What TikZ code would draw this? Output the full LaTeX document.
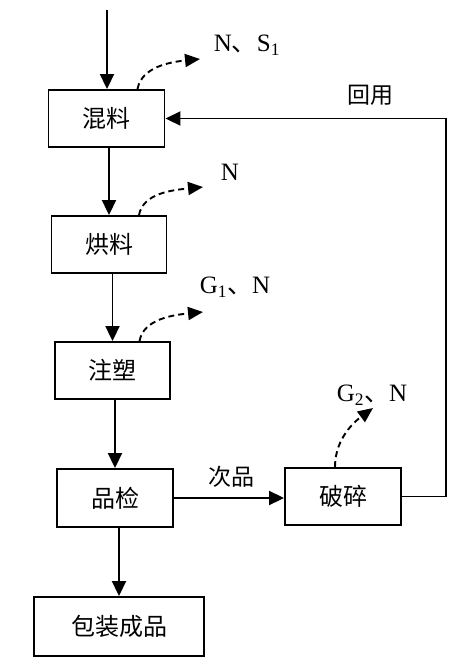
\documentclass[tikz,border=0pt]{standalone}
\usepackage{fontspec}
\setmainfont{Liberation Serif}
\newfontfamily\cjk{Noto Sans CJK SC}
\usetikzlibrary{arrows.meta}
\begin{document}
\begin{tikzpicture}[x=1pt,y=-1pt,
  box/.style={draw,line width=1.9pt,minimum width=116pt,minimum height=57pt,inner sep=0pt,font=\cjk\fontsize{24}{26}\selectfont},
  arr/.style={line width=1.9pt,-{Triangle[length=15pt,width=14pt]}},
  darr/.style={line width=1.9pt,dash pattern=on 6pt off 4pt,-{Triangle[length=15pt,width=13pt]}},
  lbl/.style={inner sep=0pt,font=\fontsize{25}{27}\selectfont},
  clbl/.style={inner sep=0pt,font=\cjk\fontsize{23}{25}\selectfont}]
\useasboundingbox (0,0) rectangle (459,667);
\node[box] (hunliao) at (106.5,118.5) {混料};
\node[box,minimum width=115pt] (hongliao) at (109,244.5) {烘料};
\node[box,minimum width=115pt] (zhusu) at (112.5,370.5) {注塑};
\node[box,minimum height=58pt] (pinjian) at (115,498) {品检};
\node[box] (posui) at (343,496.5) {破碎};
\node[box,minimum width=170pt,minimum height=59pt] (baozhuang) at (119,626.5) {包装成品};
\coordinate (in) at (107,10);
\coordinate (rt) at (446,118.5);
\coordinate (e1) at (200,59);
\coordinate (e2) at (203,187);
\coordinate (e3) at (203,312);
\coordinate (e4) at (373,408);
\node[lbl] (l1) at (247,45) {N{\cjk 、}S\textsubscript{1}};
\node[lbl] (l2) at (230,172) {N};
\node[lbl] (l3) at (235,287) {G\textsubscript{1}{\cjk 、}N};
\node[lbl] (l4) at (372,395) {G\textsubscript{2}{\cjk 、}N};
\node[clbl] (huiyong) at (370,95) {回用};
\node[clbl] (ciping) at (231,477) {次品};
\draw[arr] (in) -- (in |- hunliao.north);
\draw[arr] (hunliao.south -| hongliao.north) -- (hongliao.north);
\draw[arr] (hongliao.south -| zhusu.north) -- (zhusu.north);
\draw[arr] (zhusu.south -| pinjian.north) -- (pinjian.north);
\draw[arr] (pinjian.south -| baozhuang.north) -- (baozhuang.north);
\draw[arr] (pinjian.east) -- (pinjian.east -| posui.west);
\draw[arr] (posui.east) -| (rt) -- (hunliao.east);
\draw[darr] ([xshift=31pt]hunliao.north) .. controls +(4,-22) and (170,62) .. (e1);
\draw[darr] ([xshift=30pt]hongliao.north) .. controls +(4,-22) and (173,190) .. (e2);
\draw[darr] ([xshift=27pt]zhusu.north) .. controls +(4,-22) and (173,315) .. (e3);
\draw[darr] ([xshift=-8pt]posui.north) .. controls +(0,-25) and (350,425) .. (e4);
\end{tikzpicture}
\end{document}
